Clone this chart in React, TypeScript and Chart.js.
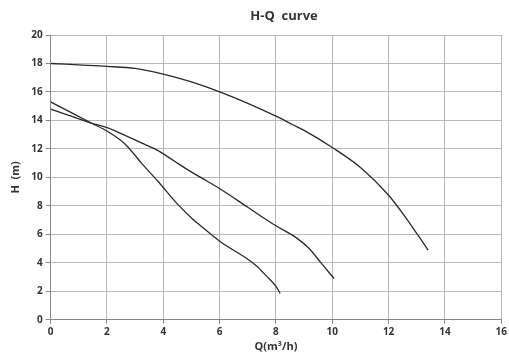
import React, { useEffect, useRef } from "react";
import { Chart, registerables } from "chart.js";

Chart.register(...registerables);

const chartTitle = "H-Q  curve";
const xTitle = "Q(m³/h)";
const yTitle = "H  (m)";

const curve1Q = [0, 1, 2, 3, 4, 5, 6, 7, 8, 8.6, 9, 10, 11, 12, 12.6, 13.4];
const curve1H = [18.0, 17.9, 17.8, 17.65, 17.25, 16.7, 16.0, 15.2, 14.3, 13.7, 13.3, 12.1, 10.7, 8.75, 7.2, 4.9];

const curve2Q = [0, 0.7, 1.46, 2.03, 2.64, 3.24, 3.7, 4.03, 4.54, 5.02, 5.37, 6.08, 7.0, 8.0, 8.75, 9.17, 9.6, 10.06];
const curve2H = [14.8, 14.32, 13.8, 13.48, 12.95, 12.41, 12.0, 11.62, 10.95, 10.35, 9.95, 9.12, 7.9, 6.6, 5.72, 5.02, 4.0, 2.9];

const curve3Q = [0, 0.7, 1.46, 2.03, 2.64, 3.24, 3.83, 4.54, 5.02, 5.37, 6.03, 7.0, 7.3, 7.65, 8.0, 8.15];
const curve3H = [15.3, 14.58, 13.8, 13.22, 12.35, 10.97, 9.68, 8.05, 7.12, 6.53, 5.48, 4.25, 3.8, 3.1, 2.35, 1.85];

const toPts = (q: number[], h: number[]) => q.map((x, i) => ({ x, y: h[i] }));

const FONT = "'Open Sans', 'Noto Sans', sans-serif";

export default function App() {
  const ref = useRef<HTMLCanvasElement | null>(null);
  useEffect(() => {
    if (!ref.current) return;
    const ds = (q: number[], h: number[]) => ({
      data: toPts(q, h),
      borderColor: "#2a2a2a",
      borderWidth: 1.3,
      pointRadius: 0,
      fill: false,
      tension: 0.4,
      cubicInterpolationMode: "monotone" as const,
    });
    const chart = new Chart(ref.current, {
      type: "line",
      data: {
        datasets: [ds(curve1Q, curve1H), ds(curve2Q, curve2H), ds(curve3Q, curve3H)],
      },
      options: {
        animation: false,
        responsive: false,
        maintainAspectRatio: false,
        layout: { padding: { top: 35, right: 4, bottom: 6, left: 9 } },
        plugins: {
          legend: { display: false },
          tooltip: { enabled: false },
          title: { display: false },
        },
        scales: {
          x: {
            type: "linear",
            min: 0,
            max: 16,
            ticks: { stepSize: 2, color: "#333", font: { family: FONT, size: 10, weight: "bold" }, padding: 2 },
            grid: { color: "#b8b8b8", tickLength: 4, tickColor: "#888" },
            border: { color: "#888" },
            title: { display: true, text: xTitle, color: "#333", font: { family: FONT, size: 11, weight: "bold" }, padding: { top: 0, bottom: 0 } },
          },
          y: {
            type: "linear",
            min: 0,
            max: 20,
            ticks: { stepSize: 2, color: "#333", font: { family: FONT, size: 10, weight: "bold" }, padding: 3 },
            grid: { color: "#b8b8b8", tickLength: 5, tickColor: "#888" },
            border: { color: "#888" },
            title: { display: true, text: yTitle, color: "#333", font: { family: FONT, size: 11, weight: "bold" }, padding: { top: 0, bottom: 6 } },
          },
        },
      },
    });
    return () => chart.destroy();
  }, []);
  return (
    <div style={{ position: "fixed", left: 0, top: 0, width: 509, height: 359, background: "#fff" }}>
      <div
        style={{
          position: "absolute",
          left: 234,
          width: 100,
          top: 6,
          textAlign: "center",
          fontFamily: FONT,
          fontWeight: "bold",
          fontSize: 13,
          color: "#333",
          whiteSpace: "pre",
        }}
      >
        {chartTitle}
      </div>
      <canvas ref={ref} width={509} height={359} style={{ display: "block" }} />
    </div>
  );
}
